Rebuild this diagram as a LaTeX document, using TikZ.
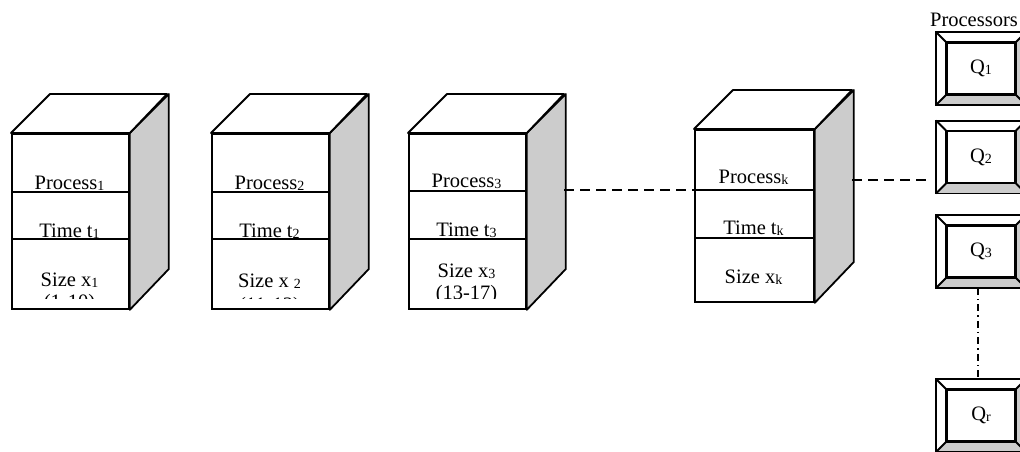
\documentclass[tikz,border=0pt]{standalone}
\usepackage{fontspec}
\setmainfont{Liberation Serif}
\definecolor{sidegray}{RGB}{204,204,204}
\newcommand\sub[1]{{\fontsize{14}{14}\selectfont\raisebox{-1.2pt}{#1}}}
\tikzset{
  face/.style={draw, line width=1.8pt, fill=white, inner sep=0pt, minimum width=117pt, minimum height=175pt, anchor=north west},
  facek/.style={face, minimum width=119pt, minimum height=172pt},
  sideface/.style={draw, line width=1.8pt, fill=sidegray, line join=round},
  topface/.style={draw, line width=1.8pt, fill=white, line join=round},
  rule/.style={line width=1.5pt},
  lbl/.style={inner sep=0pt, font=\fontsize{20.5}{22}\selectfont, anchor=base},
  qin/.style={draw, line width=1.8pt, fill=white, inner sep=0pt, minimum width=68pt, minimum height=51pt, font=\fontsize{20.5}{22}\selectfont},
  bevline/.style={line width=1.8pt, line join=miter},
  dashline/.style={line width=1.5pt, dash pattern=on 10pt off 6pt},
  dashdotline/.style={line width=1.5pt, dash pattern=on 7pt off 4pt on 1.5pt off 4pt},
}
\newcommand\bevelbox[3]{%
  \node[qin] (#1) at (981,#2) {#3};
  \fill[sidegray] (#1.south west) -- ++(-10,10) -- ++(88,0) -- (#1.south east) -- cycle;
  \fill[sidegray] (#1.north east) -- ++(10,-10) -- ++(0,71) -- (#1.south east) -- cycle;
  \draw[bevline] ([xshift=-10pt,yshift=10pt]#1.north west) rectangle ([xshift=10pt,yshift=-10pt]#1.south east);
  \draw[bevline] (#1.north west) -- ++(-10,-10);
  \draw[bevline] (#1.north east) -- ++(10,-10);
  \draw[bevline] (#1.south west) -- ++(-10,10);
  \draw[bevline] (#1.south east) -- ++(10,10);
  \draw[bevline] (#1.north west) rectangle (#1.south east);
}
\begin{document}
\begin{tikzpicture}[x=1pt,y=-1pt]
\useasboundingbox (0,0) rectangle (1020,451);
\clip (0,0) rectangle (1020,451);

% ---- cube 1
\node[face] (c1) at (11,133) {};
\draw[sideface] (c1.north east) -- ++(39,-39) -- ++(0,175) -- (c1.south east) -- cycle;
\draw[topface] (c1.north west) -- ++(39,-39) -- ++(117,0) -- (c1.north east) -- cycle;
\draw[rule] (11,192) -- (130,192);
\draw[rule] (11,239) -- (130,239);
\node[lbl] (p1) at (69.5,189) {Process\sub{1}};
\node[lbl] (t1) at (69.5,237) {Time t\sub{1}};
\begin{scope}
\clip (11,133) rectangle (128,298);
\node[lbl] (s1) at (69.5,286) {Size x\sub{1}};
\node[lbl] (r1) at (69.5,308) {(1-10)};
\end{scope}

% ---- cube 2
\node[face] (c2) at (211,133) {};
\draw[sideface] (c2.north east) -- ++(39,-39) -- ++(0,175) -- (c2.south east) -- cycle;
\draw[topface] (c2.north west) -- ++(39,-39) -- ++(117,0) -- (c2.north east) -- cycle;
\draw[rule] (211,192) -- (330,192);
\draw[rule] (211,239) -- (330,239);
\node[lbl] (p2) at (269.5,189) {Process\sub{2}};
\node[lbl] (t2) at (269.5,237) {Time t\sub{2}};
\begin{scope}
\clip (211,133) rectangle (328,298);
\node[lbl] (s2) at (269.5,287) {Size x \sub{2}};
\node[lbl] (r2) at (269.5,311) {(11-12)};
\end{scope}

% ---- cube 3
\node[face] (c3) at (408,133) {};
\draw[sideface] (c3.north east) -- ++(39,-39) -- ++(0,175) -- (c3.south east) -- cycle;
\draw[topface] (c3.north west) -- ++(39,-39) -- ++(117,0) -- (c3.north east) -- cycle;
\draw[rule] (408,191) -- (527,191);
\draw[rule] (408,239) -- (527,239);
\node[lbl] (p3) at (466.5,187) {Process\sub{3}};
\node[lbl] (t3) at (466.5,236) {Time t\sub{3}};
\begin{scope}
\clip (408,133) rectangle (525,298);
\node[lbl] (s3) at (466.5,277) {Size x\sub{3}};
\node[lbl] (r3) at (466.5,299) {(13-17)};
\end{scope}

% ---- cube k
\node[facek] (ck) at (694,129) {};
\draw[sideface] (ck.north east) -- ++(39,-39) -- ++(0,172) -- (ck.south east) -- cycle;
\draw[topface] (ck.north west) -- ++(39,-39) -- ++(119,0) -- (ck.north east) -- cycle;
\draw[rule] (694,190) -- (815,190);
\draw[rule] (694,238) -- (815,238);
\node[lbl] (pk) at (753.5,183) {Process\sub{k}};
\node[lbl] (tk) at (753.5,234) {Time t\sub{k}};
\node[lbl] (sk) at (753.5,283) {Size x\sub{k}};

% ---- processors
\node[lbl] (proc) at (974,26) {Processors};
\bevelbox{q1}{68.5}{Q\sub{1}}
\bevelbox{q2}{157}{Q\sub{2}}
\bevelbox{q3}{251.5}{Q\sub{3}}
\bevelbox{qr}{415.5}{Q\sub{r}}

% ---- connectors
\coordinate (d1) at (564,190);
\draw[dashline] (d1) -- (d1 -| ck.west);
\coordinate (d2) at (852,180);
\coordinate (d3) at (927,180);
\draw[dashline] (d2) -- (d3);
\draw[dashdotline] ([xshift=-3pt,yshift=-10pt]q3.south) -- ([xshift=-3pt,yshift=10pt]qr.north);
\end{tikzpicture}
\end{document}
